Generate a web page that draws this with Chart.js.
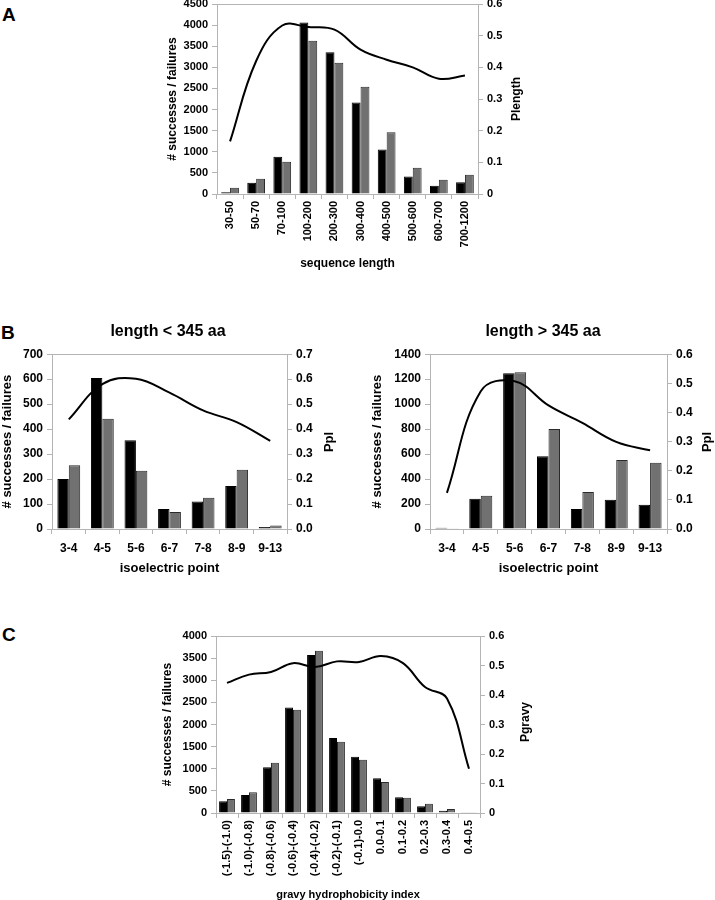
<!DOCTYPE html>
<html>
<head>
<meta charset="utf-8">
<script src="https://cdn.jsdelivr.net/npm/chart.js@4/dist/chart.umd.min.js"></script>
<style>
  body { margin: 0; width: 715px; height: 900px; background: #fff; position: relative; overflow: hidden; }
  .panel { position: absolute; }
  .letter { position: absolute; font: bold 19px "Liberation Sans", Arial, sans-serif; color: #000; }
  .rtitle { position: absolute; font: bold 12px "Liberation Sans", Arial, sans-serif; color: #000;
            transform: translate(-50%, -50%) rotate(-90deg); white-space: nowrap; }
</style>
</head>
<body>
<div class="letter" style="left:2px; top:4px;">A</div>
<div class="letter" style="left:1px; top:322px;">B</div>
<div class="letter" style="left:2px; top:624px;">C</div>

<div class="panel" style="left:161px; top:-8px; width:367px; height:283px;"><canvas id="chart-length"></canvas></div>
<div class="panel" style="left:-4px; top:315px; width:344px; height:265px;"><canvas id="chart-pi-short"></canvas></div>
<div class="panel" style="left:366px; top:315px; width:354px; height:265px;"><canvas id="chart-pi-long"></canvas></div>
<div class="panel" style="left:156px; top:620px; width:381px; height:286px;"><canvas id="chart-gravy"></canvas></div>

<!-- right axis titles read bottom-to-top like the original -->
<div class="rtitle" style="left:516px; top:99px;">Plength</div>
<div class="rtitle" style="left:328px; top:442px; font-size:13px;">Ppl</div>
<div class="rtitle" style="left:706px; top:442px; font-size:13px;">Ppl</div>
<div class="rtitle" style="left:525px; top:722px;">Pgravy</div>

<script>
// A - sequence length
const lengthCats = ['30-50', '50-70', '70-100', '100-200', '200-300', '300-400', '400-500', '500-600', '600-700', '700-1200'];
const lengthSucc = [40, 268, 885, 4060, 3355, 2170, 1055, 415, 197, 276];
const lengthFail = [150, 360, 765, 3630, 3110, 2540, 1460, 620, 340, 455];
const pLength = [0.166, 0.42, 0.532, 0.527, 0.519, 0.456, 0.424, 0.40, 0.364, 0.374];
const lengthTicks = ['0', '500', '1000', '1500', '2000', '2500', '3000', '3500', '4000', '4500'];
const pLengthTicks = ['0', '0.1', '0.2', '0.3', '0.4', '0.5', '0.6'];

// B - isoelectric point
const piCats = ['3-4', '4-5', '5-6', '6-7', '7-8', '8-9', '9-13'];
const piShortSucc = [200, 605, 355, 80, 110, 172, 8];
const piShortFail = [255, 442, 233, 68, 125, 237, 14];
const pPiShort = [0.439, 0.58, 0.602, 0.546, 0.475, 0.428, 0.353];
const piShortTicks = ['0', '100', '200', '300', '400', '500', '600', '700'];
const pPiShortTicks = ['0.0', '0.1', '0.2', '0.3', '0.4', '0.5', '0.6', '0.7'];

const piLongSucc = [10, 243, 1247, 582, 160, 235, 195];
const piLongFail = [2, 267, 1255, 801, 296, 553, 531];
const pPiLong = [0.124, 0.473, 0.507, 0.424, 0.364, 0.299, 0.27];
const piLongTicks = ['0', '200', '400', '600', '800', '1000', '1200', '1400'];
const pPiLongTicks = ['0.0', '0.1', '0.2', '0.3', '0.4', '0.5', '0.6'];

// C - gravy index
const gravyCats = ['(-1.5)-(-1.0)', '(-1.0)-(-0.8)', '(-0.8)-(-0.6)', '(-0.6)-(-0.4)', '(-0.4)-(-0.2)', '(-0.2)-(-0.1)',
  '(-0.1)-0.0', '0.0-0.1', '0.1-0.2', '0.2-0.3', '0.3-0.4', '0.4-0.5'];
const gravySucc = [264, 407, 1032, 2387, 3569, 1694, 1273, 783, 354, 150, 53, 15];
const gravyFail = [316, 467, 1137, 2334, 3667, 1611, 1205, 700, 346, 211, 90, 8];
const pGravy = [0.441, 0.469, 0.478, 0.508, 0.495, 0.514, 0.512, 0.532, 0.508, 0.427, 0.388, 0.15];
const gravyTicks = ['0', '500', '1000', '1500', '2000', '2500', '3000', '3500', '4000'];
const pGravyTicks = ['0', '0.1', '0.2', '0.3', '0.4', '0.5', '0.6'];

const FONT = '"Liberation Sans", Arial, sans-serif';
const AXIS_GRAY = '#b4b4b4';
Chart.defaults.font.family = FONT;
Chart.defaults.color = '#000';
Chart.defaults.animation = false;

function makeChart(id, o) {
  const font = (size) => ({ family: FONT, size: size, weight: 'bold' });
  new Chart(document.getElementById(id), {
    type: 'bar',
    data: {
      labels: o.labels,
      datasets: [{
        data: o.succ,
        backgroundColor: '#000',
        borderColor: '#000',
        borderWidth: 1,
        yAxisID: 'y',
        order: 2
      }, {
        data: o.fail,
        backgroundColor: '#717171',
        borderColor: '#2a2a2a',
        borderWidth: 1,
        yAxisID: 'y',
        order: 2
      }, {
        type: 'line',
        data: o.prob,
        borderColor: '#000',
        borderWidth: 2,
        pointRadius: 0,
        tension: 0.4,
        fill: false,
        yAxisID: 'y1',
        order: 1
      }]
    },
    options: {
      responsive: true,
      maintainAspectRatio: false,
      layout: { padding: { top: o.padTop, left: 0, right: 0, bottom: 0 } },
      datasets: { bar: { categoryPercentage: o.catPct, barPercentage: 1 } },
      plugins: {
        legend: { display: false },
        tooltip: { enabled: false },
        title: {
          display: !!o.title,
          text: o.title,
          font: font(16),
          color: '#000',
          padding: { top: 7, bottom: 13 }
        }
      },
      scales: {
        x: {
          grid: { drawOnChartArea: false, color: AXIS_GRAY, tickLength: 5 },
          border: { color: AXIS_GRAY },
          ticks: {
            font: font(o.xFont),
            color: '#000',
            padding: o.xPad,
            autoSkip: false,
            maxRotation: o.rotate ? 90 : 0,
            minRotation: o.rotate ? 90 : 0
          },
          title: { display: true, text: o.xTitle, font: font(o.xTitleFont), color: '#000', padding: { top: 0, bottom: 4 } },
          afterFit: (s) => { s.height = o.xHeight; }
        },
        xTop: {
          position: 'top',
          grid: { display: false, drawTicks: false },
          border: { color: AXIS_GRAY },
          ticks: { display: false },
          afterFit: (s) => { s.height = 0; }
        },
        y: {
          min: 0,
          max: o.yMax,
          ticks: {
            stepSize: o.yStep,
            font: font(o.tickFont),
            color: '#000',
            padding: 4,
            callback: (v, i) => o.yTicks[i]
          },
          grid: { drawOnChartArea: false, color: AXIS_GRAY, tickLength: 5 },
          border: { color: AXIS_GRAY },
          title: { display: true, text: '# successes / failures', font: font(o.yTitleFont), color: '#000', padding: 4 },
          afterFit: (s) => { s.width = o.leftW; }
        },
        y1: {
          position: 'right',
          min: 0,
          max: o.y1Max,
          ticks: {
            stepSize: 0.1,
            font: font(o.tickFont),
            color: '#000',
            padding: 4,
            callback: (v, i) => o.y1Ticks[i]
          },
          grid: { drawOnChartArea: false, color: AXIS_GRAY, tickLength: 5 },
          border: { color: AXIS_GRAY },
          afterFit: (s) => { s.width = o.rightW; }
        }
      }
    }
  });
}

makeChart('chart-length', {
  labels: lengthCats, succ: lengthSucc, fail: lengthFail, prob: pLength,
  yMax: 4500, yStep: 500, yTicks: lengthTicks, y1Max: 0.6, y1Ticks: pLengthTicks,
  xTitle: 'sequence length', rotate: true, xFont: 11, xPad: 2, xTitleFont: 12, xHeight: 81,
  tickFont: 11, yTitleFont: 12, leftW: 56, rightW: 50, padTop: 12, catPct: 0.68
});

makeChart('chart-pi-short', {
  labels: piCats, succ: piShortSucc, fail: piShortFail, prob: pPiShort, title: 'length < 345 aa',
  yMax: 700, yStep: 100, yTicks: piShortTicks, y1Max: 0.7, y1Ticks: pPiShortTicks,
  xTitle: 'isoelectric point', rotate: false, xFont: 12, xPad: 7, xTitleFont: 13, xHeight: 51,
  tickFont: 12, yTitleFont: 13, leftW: 56, rightW: 53, padTop: 0, catPct: 0.68
});

makeChart('chart-pi-long', {
  labels: piCats, succ: piLongSucc, fail: piLongFail, prob: pPiLong, title: 'length > 345 aa',
  yMax: 1400, yStep: 200, yTicks: piLongTicks, y1Max: 0.6, y1Ticks: pPiLongTicks,
  xTitle: 'isoelectric point', rotate: false, xFont: 12, xPad: 7, xTitleFont: 13, xHeight: 51,
  tickFont: 12, yTitleFont: 13, leftW: 64, rightW: 53, padTop: 0, catPct: 0.68
});

makeChart('chart-gravy', {
  labels: gravyCats, succ: gravySucc, fail: gravyFail, prob: pGravy,
  yMax: 4000, yStep: 500, yTicks: gravyTicks, y1Max: 0.6, y1Ticks: pGravyTicks,
  xTitle: 'gravy hydrophobicity index', rotate: true, xFont: 11, xPad: 2, xTitleFont: 11, xHeight: 93,
  tickFont: 11, yTitleFont: 12, leftW: 60, rightW: 57, padTop: 16, catPct: 0.72
});
</script>
</body>
</html>
